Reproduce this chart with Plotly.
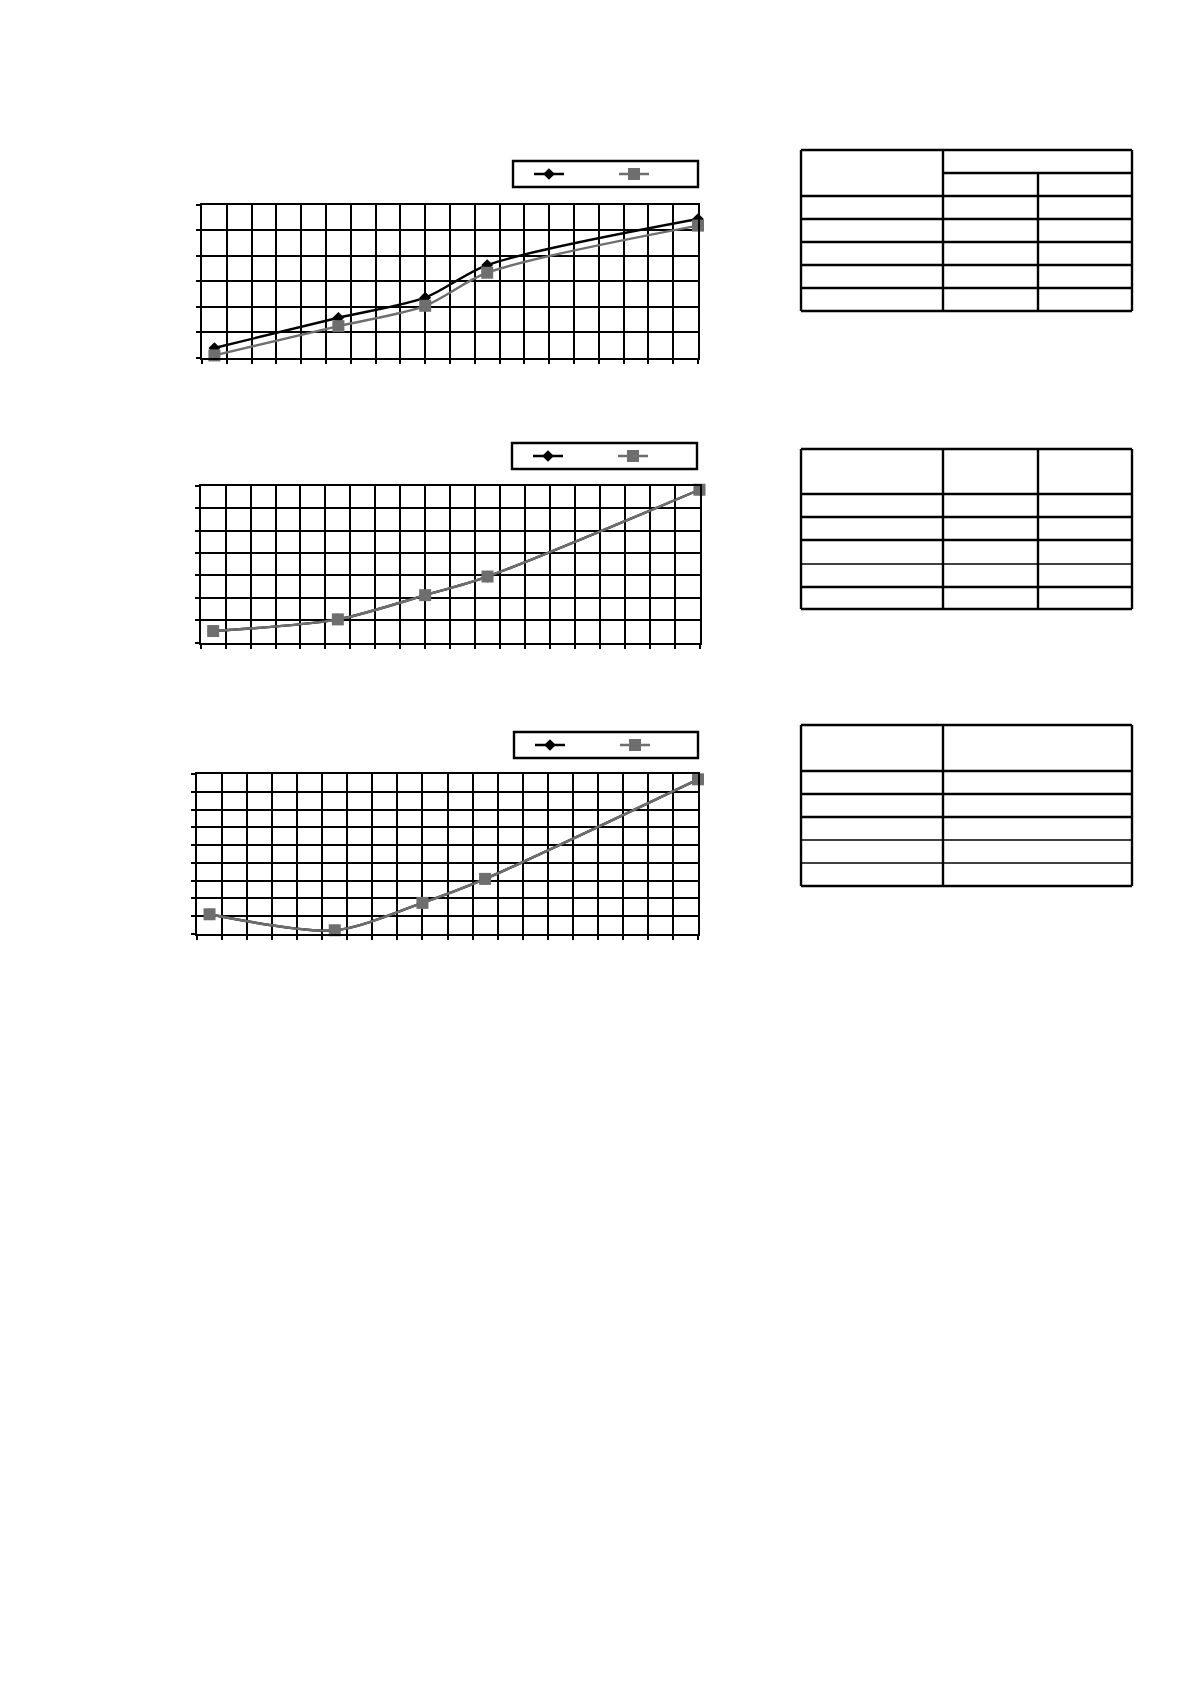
import plotly.graph_objects as go

# page size and the 8px body margin of the html page
PAGE_W, PAGE_H = 1190, 1684
OFF = 8
W, H = PAGE_W - 2 * OFF, PAGE_H - 2 * OFF

# x positions (grid units) shared by the three charts
x_pts = [0.5, 5.5, 9, 11.5, 20]

# chart 1
c1_black = [0.38, 1.57, 2.36, 3.64, 5.45]
c1_gray = [0.09, 1.24, 2.04, 3.34, 5.19]
# chart 2 (black series sits under the gray one)
c2_black = [0.52, 1.04, 2.12, 2.95, 6.82]
c2_gray = [0.52, 1.04, 2.12, 2.95, 6.82]
# chart 3
c3_black = [1.11, 0.21, 1.75, 3.10, 8.70]
c3_gray = [1.11, 0.21, 1.75, 3.10, 8.70]

y_max = [6, 7, 9]


def px_x(v):
    return (v - OFF) / W


def px_y(v):
    return 1 - (v - OFF) / H


# plot areas in page pixels: left, right, top, bottom
areas = [(202, 698, 205, 357.7), (200.7, 699.5, 485.7, 642.7), (197, 698, 774, 934)]
# legend frames: left, right, top, bottom
legend_boxes = [(513, 698, 161, 187), (512, 697, 443, 469), (514, 698, 732, 758)]

BLACK = "#000000"
GRAY = "#6e6e6e"
LW = 2.4

fig = go.Figure()
shapes = []

series = [(c1_black, c1_gray), (c2_black, c2_gray), (c3_black, c3_gray)]
for i, (blk, gry) in enumerate(series):
    n = "" if i == 0 else str(i + 1)
    leg = "legend" + n
    fig.add_trace(go.Scatter(
        x=x_pts, y=blk, xaxis="x" + n, yaxis="y" + n, name=" ", legend=leg,
        mode="lines+markers", line=dict(color=BLACK, width=2.4, shape="spline", smoothing=0.8),
        marker=dict(symbol="diamond", size=9, color=BLACK), cliponaxis=False))
    fig.add_trace(go.Scatter(
        x=x_pts, y=gry, xaxis="x" + n, yaxis="y" + n, name=" ", legend=leg,
        mode="lines+markers", line=dict(color=GRAY, width=2.4, shape="spline", smoothing=0.8),
        marker=dict(symbol="square", size=12, color=GRAY), cliponaxis=False))

    l, r, t, b = areas[i]
    axis_common = dict(showline=True, mirror=True, linecolor=BLACK, linewidth=LW,
                       showgrid=True, gridcolor=BLACK, gridwidth=LW, zeroline=False,
                       ticks="outside", ticklen=4, tickwidth=LW, tickcolor=BLACK,
                       showticklabels=False, fixedrange=True)
    bl, br, bt, bb = legend_boxes[i]
    fig.update_layout({
        "xaxis" + n: dict(domain=[px_x(l), px_x(r)], range=[0, 20], dtick=1,
                          anchor="y" + n, **axis_common),
        "yaxis" + n: dict(domain=[px_y(b), px_y(t)], range=[0, y_max[i]], dtick=1,
                          anchor="x" + n, **axis_common),
        leg: dict(x=px_x(bl + 16), xanchor="left", y=px_y((bt + bb) / 2), yanchor="middle",
                  orientation="h", borderwidth=0, bgcolor="rgba(0,0,0,0)",
                  entrywidth=40, entrywidthmode="pixels", font=dict(size=9),
                  tracegroupgap=0),
    })
    shapes.append(dict(type="rect", xref="paper", yref="paper", x0=px_x(bl), x1=px_x(br),
                       y0=px_y(bb), y1=px_y(bt), line=dict(color=BLACK, width=LW),
                       layer="below"))


# empty tables drawn as ruled boxes
def hline(y, x0, x1, w=LW):
    shapes.append(dict(type="line", xref="paper", yref="paper", x0=px_x(x0), x1=px_x(x1),
                       y0=px_y(y), y1=px_y(y), line=dict(color=BLACK, width=w)))


def vline(x, y0, y1, w=LW):
    shapes.append(dict(type="line", xref="paper", yref="paper", x0=px_x(x), x1=px_x(x),
                       y0=px_y(y0), y1=px_y(y1), line=dict(color=BLACK, width=w)))


tx = [801, 943, 1038, 1132]

# table 1: merged header over two value columns
t1_rows = [150, 196, 219, 242, 265, 288, 311]
for y in t1_rows:
    hline(y, tx[0], tx[3])
hline(173, tx[1], tx[3])
vline(tx[0], t1_rows[0], t1_rows[-1])
vline(tx[1], t1_rows[0], t1_rows[-1])
vline(tx[2], 173, t1_rows[-1])
vline(tx[3], t1_rows[0], t1_rows[-1])

# table 2: three columns
t2_rows = [449, 494, 517, 540, 564, 587, 609]
for y in t2_rows:
    hline(y, tx[0], tx[3], 1.6 if y == 564 else LW)
for x in tx:
    vline(x, t2_rows[0], t2_rows[-1])

# table 3: two columns
t3_rows = [725, 771, 794, 817, 840, 863, 886]
for y in t3_rows:
    hline(y, tx[0], tx[3], 1.6 if y in (840, 863) else LW)
for x in (tx[0], tx[1], tx[3]):
    vline(x, t3_rows[0], t3_rows[-1])

fig.update_layout(
    width=W, height=H, margin=dict(l=0, r=0, t=0, b=0),
    paper_bgcolor="white", plot_bgcolor="white",
    font=dict(family="Liberation Sans", color=BLACK),
    shapes=shapes, showlegend=True,
)

fig.write_html("out.html")
